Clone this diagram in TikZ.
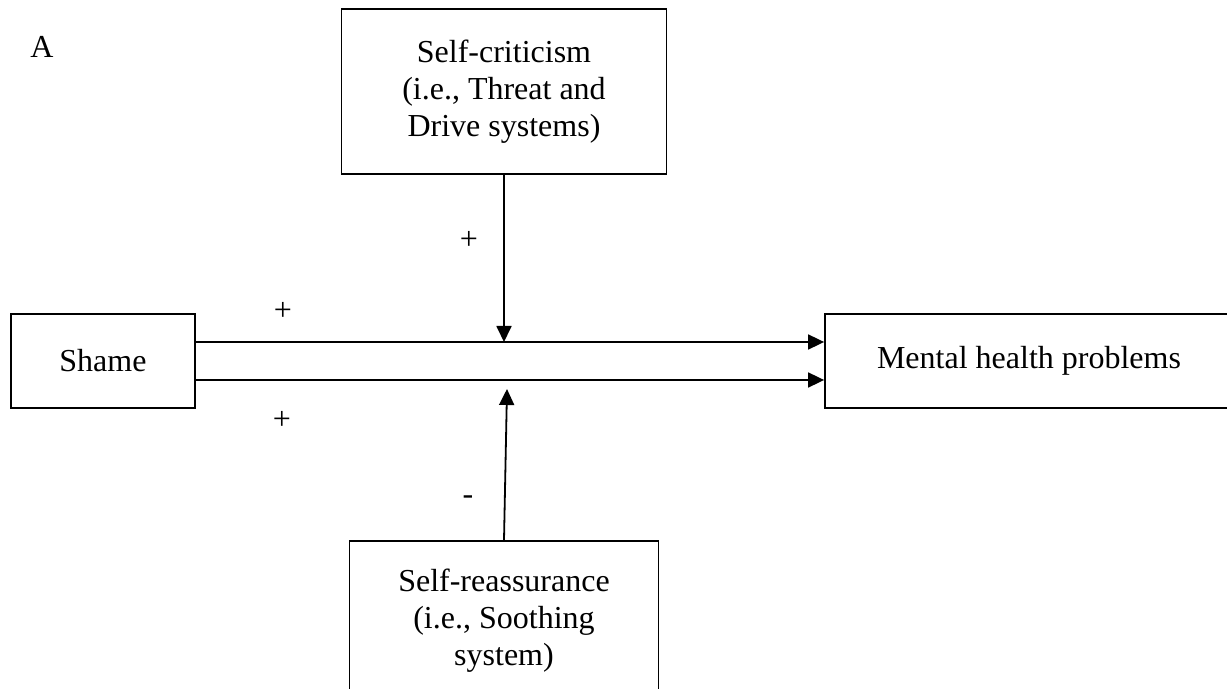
\documentclass[tikz,border=0pt]{standalone}
\usepackage{fontspec}
\setmainfont{Liberation Serif}
\usetikzlibrary{arrows.meta}
\begin{document}
\begin{tikzpicture}[x=0.5pt,y=-0.5pt,
  every node/.style={font=\fontsize{16}{18.5}\selectfont},
  box/.style={draw,line width=0.9pt,align=center,inner sep=0pt},
  link/.style={line width=0.9pt,-{Triangle[length=8pt,width=7.5pt]}}]
\useasboundingbox (0,0) rectangle (1227,689);
\clip (0,0) rectangle (1227,689);
\node (panel) at (42,47) {A};
\node [box,minimum width=162.5pt,minimum height=82.5pt] (crit) at (504,91.5)
  {Self-criticism\\(i.e., Threat and\\Drive systems)};
\node [box,minimum width=92pt,minimum height=47pt] (shame) at (103,361) {Shame};
\node [box,minimum width=204pt,minimum height=47pt] (mental) at (1029,361)
  {Mental health problems};
\node [box,minimum width=154.5pt,minimum height=79.5pt] (reass) at (504,620.5)
  {Self-reassurance\\(i.e., Soothing\\system)};
\coordinate (hitA) at (504,342);
\coordinate (hitB) at (507,389);
\draw [link] ([yshift=9.5pt]shame.east) -- ([yshift=9.5pt]mental.west);
\draw [link] ([yshift=-9.5pt]shame.east) -- ([yshift=-9.5pt]mental.west);
\draw [link] (crit.south) -- (hitA);
\draw [link] (reass.north) -- (hitB);
\node (plusA) at (283,311) {+};
\node (plusB) at (282,420) {+};
\node (plusC) at (469,240) {+};
\node (minus) at (468,500) {-};
\end{tikzpicture}
\end{document}
